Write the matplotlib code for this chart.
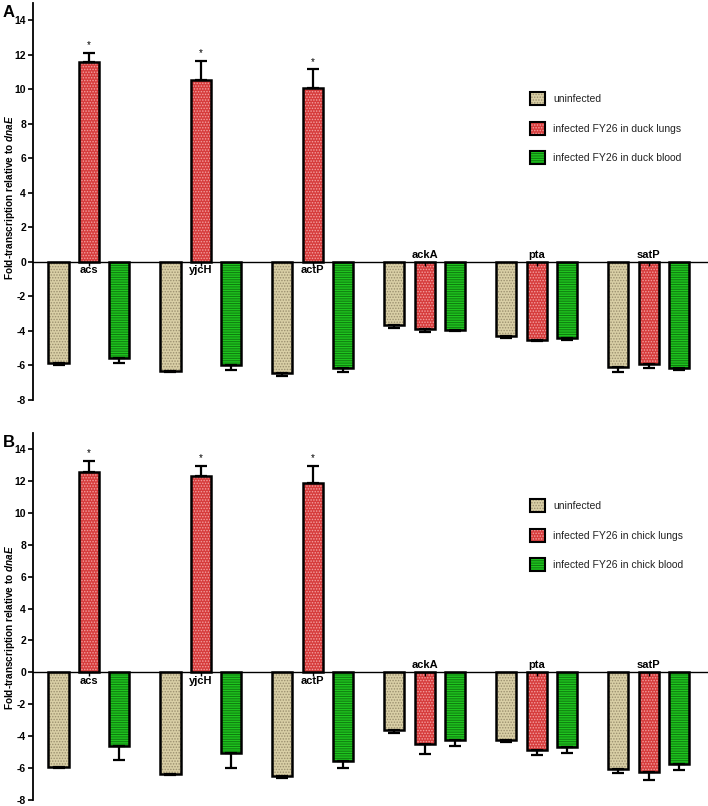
import numpy as np
import matplotlib
matplotlib.use("Agg")
import matplotlib.pyplot as plt
from matplotlib.patches import Patch

plt.rcParams['font.family'] = ['Liberation Sans', 'DejaVu Sans']
plt.rcParams['mathtext.fontset'] = 'custom'
plt.rcParams['mathtext.it'] = 'Liberation Sans:bold:italic'
plt.rcParams['mathtext.rm'] = 'Liberation Sans:bold'
plt.rcParams['hatch.linewidth'] = 0.7

genes = ['acs', 'yjcH', 'actP', 'ackA', 'pta', 'satP']

# panel A (duck)
a_uninf = [-5.88, -6.34, -6.45, -3.66, -4.27, -6.08]
a_uninf_err = [0.08, 0.06, 0.16, 0.15, 0.11, 0.27]
a_lung = [11.6, 10.54, 10.06, -3.86, -4.55, -5.93]
a_lung_err = [0.53, 1.11, 1.1, 0.19, 0.05, 0.24]
a_blood = [-5.58, -6.0, -6.16, -3.93, -4.4, -6.12]
a_blood_err = [0.3, 0.28, 0.24, 0.1, 0.15, 0.16]

# panel B (chick)
b_uninf = [-5.94, -6.35, -6.49, -3.63, -4.22, -6.07]
b_uninf_err = [0.06, 0.08, 0.16, 0.17, 0.13, 0.22]
b_lung = [12.56, 12.31, 11.89, -4.46, -4.84, -6.24]
b_lung_err = [0.71, 0.65, 1.07, 0.63, 0.37, 0.48]
b_blood = [-4.62, -5.05, -5.55, -4.22, -4.69, -5.77]
b_blood_err = [0.87, 0.95, 0.45, 0.42, 0.34, 0.37]

yticks = np.arange(-8, 15, 2)

styles = [
    dict(fc='#d9cfa6', hc='#9a8f6e', hatch='......'),
    dict(fc='#d63c3c', hc='#f4a0a0', hatch='......'),
    dict(fc='#1fc41f', hc='#0f7a0f', hatch='-------'),
]

fig = plt.figure(figsize=(7.08, 8.06), dpi=100)
axA = fig.add_axes([33/708, 1-400/806, 675/708, 397/806])
axB = fig.add_axes([33/708, 1-800/806, 675/708, 367/806])

x = np.arange(len(genes))
off = 0.272
w = 0.18


def panel(ax, series, errs, labels, letter, lab_y, leg_top):
    handles = []
    for k, (vals, err, st) in enumerate(zip(series, errs, styles)):
        vals = np.array(vals)
        err = np.array(err)
        xx = x + (k - 1) * off
        ax.bar(xx, vals, w, color=st['fc'], hatch=st['hatch'], edgecolor=st['hc'],
               linewidth=0, zorder=1)
        ax.bar(xx, vals, w, fill=False, edgecolor='black', linewidth=1.8, zorder=1.2)
        lo = np.where(vals < 0, err, 0)
        hi = np.where(vals > 0, err, 0)
        ax.errorbar(xx, vals, yerr=[lo, hi], fmt='none', ecolor='black',
                    elinewidth=1.6, capsize=4.5, capthick=1.6, zorder=2)
        if k == 1:
            for xi, v, e in zip(xx, vals, err):
                if v > 0:
                    ax.text(xi, v + e + 0.15, '*', ha='center', va='bottom', fontsize=7)
        handles.append((Patch(facecolor=st['fc'], hatch=st['hatch'], edgecolor=st['hc'], linewidth=0),
                        Patch(fill=False, edgecolor='black', linewidth=1.5)))

    for xi, g, v in zip(x, genes, series[1]):
        if v > 0:
            ax.annotate(g, (xi, 0), xytext=(0, -2.5), textcoords='offset points',
                        ha='center', va='top', fontsize=8, fontweight='bold')
        else:
            ax.annotate(g, (xi, 0), xytext=(0, 1.5), textcoords='offset points',
                        ha='center', va='bottom', fontsize=8, fontweight='bold')

    ax.set_xlim(-0.5, 5.53)
    ax.set_ylim(-8, 15)
    ax.set_yticks(yticks)
    ax.set_yticklabels([str(t) for t in yticks], fontsize=7.5, fontweight='bold')
    ax.set_xticks(x)
    ax.set_xticklabels([])
    ax.tick_params(axis='x', direction='out', length=3, width=1)
    ax.tick_params(axis='y', direction='out', length=3.5, width=1.2, pad=1.5)
    ax.spines['top'].set_visible(False)
    ax.spines['right'].set_visible(False)
    ax.spines['bottom'].set_position(('data', 0))
    ax.spines['bottom'].set_linewidth(1.0)
    ax.spines['left'].set_linewidth(1.3)
    ax.spines['left'].set_bounds(-8, 15)
    ax.set_ylabel(r'Fold-transcription relative to $\it{dnaE}$', fontsize=7.2,
                  fontweight='bold')
    ax.yaxis.set_label_coords(-0.0237, lab_y)
    ax.patch.set_alpha(0)

    ax.legend(handles, labels, loc='upper left', bbox_to_anchor=(530/708, leg_top),
              bbox_transform=fig.transFigure, frameon=False, fontsize=7.5,
              handlelength=1.45, handleheight=1.55, handletextpad=0.75,
              labelspacing=1.6, borderpad=0, borderaxespad=0, labelcolor='#222222')

    fig.text(0.004, ax.get_position().y1 - 0.002, letter, fontsize=12,
             fontweight='bold', va='top', ha='left')


panel(axA, [a_uninf, a_lung, a_blood], [a_uninf_err, a_lung_err, a_blood_err],
      ['uninfected', 'infected FY26 in duck lungs', 'infected FY26 in duck blood'],
      'A', 0.511, 1 - 92/806)
panel(axB, [b_uninf, b_lung, b_blood], [b_uninf_err, b_lung_err, b_blood_err],
      ['uninfected', 'infected FY26 in chick lungs', 'infected FY26 in chick blood'],
      'B', 0.469, 1 - 499/806)

fig.savefig('out.png', dpi=100)
